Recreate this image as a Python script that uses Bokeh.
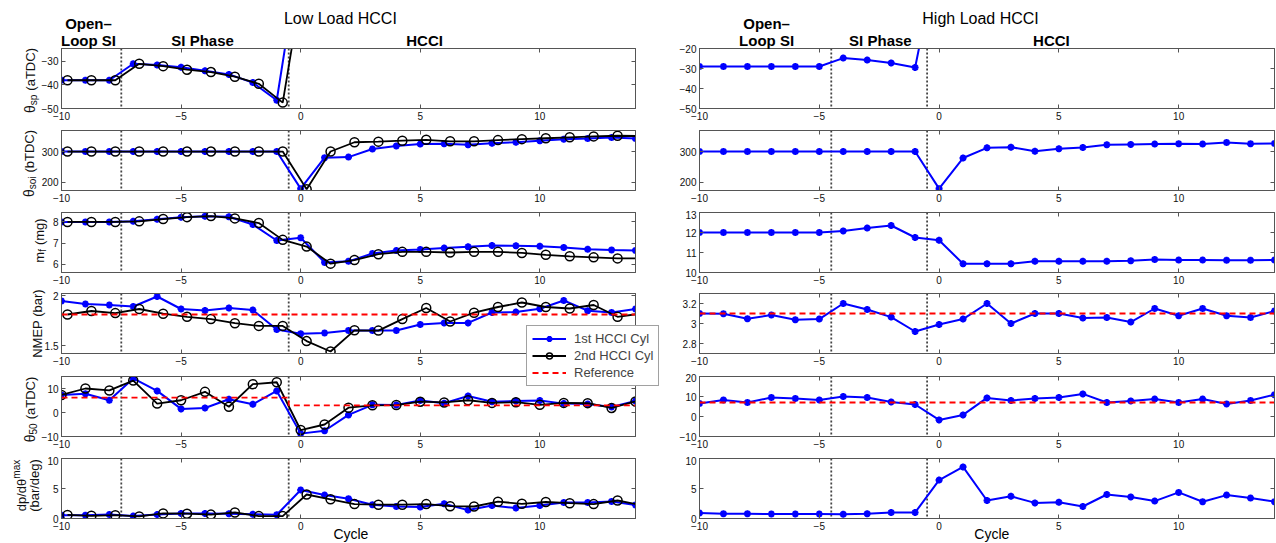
import math
from bokeh.plotting import figure
from bokeh.models import (Range1d, Span, Label, Legend, LegendItem, LinearAxis,
                          FixedTicker, CustomJSTickFormatter)
from bokeh.layouts import column, row
from bokeh.embed import file_html
from bokeh.resources import INLINE

FONT = "Liberation Sans"
AX = "#555555"
BLUE = "#0000ff"
BLACK = "#000000"
RED = "#ff0000"

# ---------------- data ----------------
x_ticks = [-10, -5, 0, 5, 10]
cycles_1st = [-10, -9, -8, -7, -6, -5, -4, -3, -2, -1, 0, 1, 2, 3, 4, 5, 6, 7,
              8, 9, 10, 11, 12, 13, 14]
cycles_2nd = [-9.75, -8.75, -7.75, -6.75, -5.75, -4.75, -3.75, -2.75, -1.75, -0.75,
              0.25, 1.25, 2.25, 3.25, 4.25, 5.25, 6.25, 7.25, 8.25, 9.25, 10.25,
              11.25, 12.25, 13.25, 14.25]
sp_cycles_1st = [-10, -9, -8, -7, -6, -5, -4, -3, -2, -1, 0]
sp_cycles_2nd = [-9.75, -8.75, -7.75, -6.75, -5.75, -4.75, -3.75, -2.75, -1.75, -0.75, 0.25]

# Low load HCCI
lo_sp_1st = [-38, -38, -38, -31, -31.5, -32.5, -34, -35.5, -39, -46.5, 18]
lo_sp_2nd = [-38, -38, -38, -31, -32, -33.5, -34.5, -36.5, -39.5, -47.5, 14]
lo_soi_1st = [300, 300, 300, 300, 300, 300, 300, 300, 300, 300, 180, 280, 282, 308,
              318, 324, 325, 322, 327, 330, 335, 340, 342, 345, 342]
lo_soi_2nd = [300, 300, 300, 300, 300, 300, 300, 300, 300, 300, 178, 300, 330, 332,
              335, 338, 333, 333, 337, 340, 343, 346, 349, 351, 350]
lo_mf_1st = [8.0, 8.0, 8.0, 8.03, 8.13, 8.22, 8.27, 8.25, 7.88, 7.12, 7.25, 6.08, 6.13,
             6.5, 6.64, 6.69, 6.76, 6.82, 6.88, 6.87, 6.85, 6.79, 6.7, 6.67, 6.65]
lo_mf_2nd = [8.0, 8.0, 8.0, 8.03, 8.14, 8.23, 8.28, 8.17, 7.95, 7.15, 6.83, 6.02, 6.19,
             6.47, 6.58, 6.58, 6.55, 6.58, 6.58, 6.53, 6.44, 6.37, 6.32, 6.27, 6.27]
lo_nmep_1st = [1.945, 1.915, 1.905, 1.89, 1.99, 1.865, 1.85, 1.875, 1.855, 1.66, 1.618,
               1.625, 1.65, 1.65, 1.65, 1.71, 1.726, 1.726, 1.83, 1.834, 1.868, 1.95,
               1.848, 1.83, 1.865]
lo_nmep_2nd = [1.81, 1.845, 1.824, 1.865, 1.818, 1.787, 1.764, 1.723, 1.696, 1.696,
               1.544, 1.44, 1.652, 1.649, 1.764, 1.875, 1.74, 1.828, 1.885, 1.93, 1.885,
               1.87, 1.905, 1.787, 1.82]
lo_nmep_ref_x = [-10, 14]
lo_nmep_ref = [1.81, 1.81]
lo_ca50_1st = [7.3, 7.8, 5.1, 14.2, 9.0, 1.5, 1.9, 5.5, 3.4, 9.0, -8.8, -7.6, -1.0, 3.2,
               3.1, 5.0, 3.9, 6.9, 4.5, 4.8, 5.0, 3.7, 3.5, 2.3, 4.8]
lo_ca50_2nd = [7.3, 10.0, 9.2, 13.3, 3.7, 5.1, 8.6, 2.4, 11.8, 12.6, -7.3, -5.0, 2.0, 3.0,
               3.1, 4.5, 4.2, 5.1, 4.0, 4.3, 3.2, 4.0, 3.9, 1.9, 4.6]
lo_ca50_ref_x = [-10, -0.5, -0.5, 14]
lo_ca50_ref = [6.2, 6.2, 3.0, 3.0]
lo_dp_1st = [0.55, 0.55, 0.65, 0.4, 0.65, 0.85, 0.85, 0.8, 0.7, 0.62, 4.75, 3.9, 3.3, 2.3,
             2.0, 1.9, 2.45, 1.4, 2.15, 1.75, 2.15, 2.65, 2.65, 2.85, 2.25]
lo_dp_2nd = [0.6, 0.45, 0.55, 0.35, 0.85, 0.8, 0.65, 1.0, 0.4, 0.4, 4.0, 3.2, 2.4, 2.3,
             2.3, 2.4, 2.05, 2.0, 2.8, 2.45, 2.75, 2.55, 2.4, 3.0, 2.2]

# High load HCCI
hi_sp_1st = [-29, -29, -29, -29, -29, -29, -24.8, -25.8, -27.2, -29.5, 30]
hi_soi_1st = [300, 300, 300, 300, 300, 300, 300, 300, 300, 300, 180, 279, 312, 314, 301,
              309, 313, 322, 323, 324, 325, 324, 329, 325, 326]
hi_mf_1st = [12.0, 12.0, 12.0, 12.0, 12.0, 12.0, 12.08, 12.22, 12.35, 11.75, 11.61, 10.44,
             10.44, 10.44, 10.56, 10.56, 10.56, 10.56, 10.59, 10.65, 10.62, 10.62, 10.61,
             10.61, 10.62]
hi_nmep_1st = [3.1, 3.097, 3.047, 3.085, 3.037, 3.044, 3.2, 3.14, 3.064, 2.92, 2.99, 3.044,
               3.2, 3.0, 3.1, 3.1, 3.054, 3.06, 3.014, 3.15, 3.078, 3.15, 3.078, 3.06, 3.125]
hi_nmep_ref_x = [-10, 14]
hi_nmep_ref = [3.1, 3.1]
hi_ca50_1st = [6.5, 8.3, 7.0, 9.5, 9.0, 8.3, 10.0, 9.5, 7.3, 6.0, -1.7, 0.8, 9.3, 8.0, 9.0,
               9.5, 11.3, 7.0, 7.8, 8.7, 7.0, 8.7, 6.3, 8.0, 10.9]
hi_ca50_ref_x = [-10, 14]
hi_ca50_ref = [7.0, 7.0]
hi_dp_1st = [0.9, 0.8, 0.8, 0.75, 0.75, 0.75, 0.7, 0.8, 1.0, 1.0, 6.4, 8.6, 3.0, 3.7, 2.6,
             2.7, 2.0, 4.0, 3.6, 2.9, 4.35, 2.8, 3.9, 3.4, 2.8]

lo_ranges = [(-50, -24.5), (174, 368), (5.6, 8.45), (1.42, 2.02), (-10, 15), (0, 10)]
hi_ranges = [(-50, -20), (174, 368), (10, 13), (2.7, 3.3), (-10, 20), (0, 10)]
lo_yticks = [[-50, -40, -30], [200, 300], [6, 7, 8], [1.5, 2], [-10, 0, 10], [0, 5, 10]]
hi_yticks = [[-50, -40, -30, -20], [200, 300], [10, 11, 12, 13], [2.8, 3, 3.2],
             [-10, 0, 10, 20], [0, 5, 10]]
lo_phase_lines = [-7.5, -0.5]
hi_phase_lines = [-4.5, -0.5]

legend_labels = ["1st HCCI Cyl", "2nd HCCI Cyl", "Reference"]

# ---------------- layout constants (pixels) ----------------
W_TOTAL, H_TOTAL = 1276, 543
H = [128, 82, 81, 82, 83, 87]
BT = [48, 2, 2, 2, 3, 2]
BB = [20, 20, 19, 20, 20, 25]
FRAME_TOP = [48, 130, 212, 293, 376, 458]
FRAME_H = 60
LX0, LX1 = 61, 635      # left column frame edges
RX0, RX1 = 699, 1274    # right column frame edges

fmt = CustomJSTickFormatter(code="return String(tick).replace('-', '\u2212');")
blank = CustomJSTickFormatter(code="return '';")

CW = {'a': .556, 'b': .556, 'c': .5, 'd': .556, 'e': .556, 'f': .278, 'g': .556,
      'h': .556, 'i': .222, 'l': .222, 'm': .833, 'n': .556, 'o': .556, 'p': .556,
      'r': .333, 's': .5, 't': .278, 'x': .5, 'A': .667, 'B': .667, 'C': .722,
      'D': .722, 'E': .667, 'M': .833, 'N': .722, 'P': .667, 'T': .611, '(': .333,
      ')': .333, '/': .278, ' ': .278, '0': .556, '5': .556, 'θ': .556}


def tw(s, size):
    return sum(CW.get(ch, 0.556) for ch in s) * size


def lpx(x):
    return LX0 + (x + 10) * (LX1 - LX0) / 24.0


def rpx(x):
    return RX0 + (x + 10) * (RX1 - RX0) / 24.0


def style_axis(ax, ticks, show):
    ax.ticker = FixedTicker(ticks=ticks, minor_ticks=[])
    ax.major_tick_in = 4
    ax.major_tick_out = 0
    ax.minor_tick_in = 0
    ax.minor_tick_out = 0
    ax.axis_line_color = AX
    ax.major_tick_line_color = AX
    ax.major_label_text_font = FONT
    ax.major_label_text_color = "#111111"
    if show:
        ax.major_label_text_font_size = "10px"
        ax.major_label_standoff = 3
        ax.formatter = fmt
    else:
        ax.major_label_text_font_size = "0px"
        ax.major_label_standoff = 0
        ax.formatter = blank


def make_panel(left, r, yr, yticks, phase_lines):
    width = 665 if left else 611
    bl = LX0 if left else RX0 - 665
    br = 665 - LX1 if left else W_TOTAL - RX1
    p = figure(width=width, height=H[r], x_range=Range1d(-10, 14),
               y_range=Range1d(*yr), output_backend="svg", toolbar_location=None,
               title=None, min_border_left=bl, min_border_right=br,
               min_border_top=BT[r], min_border_bottom=BB[r],
               background_fill_color="white", border_fill_color="white",
               border_fill_alpha=0)
    p.xgrid.visible = False
    p.ygrid.visible = False
    p.outline_line_color = AX
    p.outline_line_width = 1
    style_axis(p.xaxis[0], x_ticks, True)
    style_axis(p.yaxis[0], yticks, True)
    top = LinearAxis()
    style_axis(top, x_ticks, False)
    p.add_layout(top, "above")
    rgt = LinearAxis()
    style_axis(rgt, yticks, False)
    p.add_layout(rgt, "right")
    for loc in phase_lines:
        p.add_layout(Span(location=loc, dimension="height", line_color="#444444",
                          line_dash="2 2", line_width=1.8, level="underlay"))
    return p


def blue_style(p, xs, ys):
    l = p.line(xs, ys, line_color=BLUE, line_width=2)
    s = p.scatter(xs, ys, marker="asterisk", size=7, line_color=BLUE, line_width=2.2)
    return [l, s]


def black_style(p, xs, ys):
    l = p.line(xs, ys, line_color=BLACK, line_width=1.8)
    s = p.scatter(xs, ys, marker="circle", size=9, line_color=BLACK, line_width=1.5,
                  fill_alpha=0)
    return [l, s]


def ref_style(p, xs, ys):
    return [p.line(xs, ys, line_color=RED, line_width=1.8, line_dash="6 4")]


lo_series = [
    ((sp_cycles_1st, lo_sp_1st), (sp_cycles_2nd, lo_sp_2nd), None),
    ((cycles_1st, lo_soi_1st), (cycles_2nd, lo_soi_2nd), None),
    ((cycles_1st, lo_mf_1st), (cycles_2nd, lo_mf_2nd), None),
    ((cycles_1st, lo_nmep_1st), (cycles_2nd, lo_nmep_2nd), (lo_nmep_ref_x, lo_nmep_ref)),
    ((cycles_1st, lo_ca50_1st), (cycles_1st, lo_ca50_2nd), (lo_ca50_ref_x, lo_ca50_ref)),
    ((cycles_1st, lo_dp_1st), (cycles_2nd, lo_dp_2nd), None),
]
hi_series = [
    ((sp_cycles_1st, hi_sp_1st), None),
    ((cycles_1st, hi_soi_1st), None),
    ((cycles_1st, hi_mf_1st), None),
    ((cycles_1st, hi_nmep_1st), (hi_nmep_ref_x, hi_nmep_ref)),
    ((cycles_1st, hi_ca50_1st), (hi_ca50_ref_x, hi_ca50_ref)),
    ((cycles_1st, hi_dp_1st), None),
]

rows = []
for r in range(6):
    pl = make_panel(True, r, lo_ranges[r], lo_yticks[r], lo_phase_lines)
    b, k, ref = lo_series[r]
    blue_style(pl, *b)
    black_style(pl, *k)
    if ref:
        ref_style(pl, *ref)
    ph = make_panel(False, r, hi_ranges[r], hi_yticks[r], hi_phase_lines)
    b, ref = hi_series[r]
    blue_style(ph, *b)
    if ref:
        ref_style(ph, *ref)
    rows.append(row(pl, ph, spacing=0))

# ---------------- transparent overlay carrying all outside texts + legend ----------------
ov = figure(width=W_TOTAL, height=H_TOTAL, x_range=Range1d(0, W_TOTAL),
            y_range=Range1d(H_TOTAL, 0), output_backend="svg", toolbar_location=None,
            title=None, x_axis_type=None, y_axis_type=None,
            min_border_left=0, min_border_right=0, min_border_top=0, min_border_bottom=0,
            background_fill_alpha=0, border_fill_alpha=0, outline_line_color=None,
            margin=(-H_TOTAL, 0, 0, 0))
ov.xgrid.visible = False
ov.ygrid.visible = False


def txt(x, y, text, size, bold=False, align="center"):
    ov.add_layout(Label(x=x, y=y, text=text, text_align=align, text_baseline="middle",
                        text_font=FONT, text_font_size=f"{size}px",
                        text_font_style="bold" if bold else "normal",
                        text_color="#000000"))


def vlabel(cx, yc, pieces):
    # pieces: (text, font size, baseline shift, gap before)
    base = cx + 4.5
    total = sum(tw(t, s) + g for t, s, sh, g in pieces)
    y = yc + total / 2
    for t, s, sh, g in pieces:
        y -= g
        ov.add_layout(Label(x=base - sh, y=y, text=t, angle=math.pi / 2,
                            text_align="left", text_baseline="alphabetic",
                            text_font=FONT, text_font_size=f"{s}px",
                            text_color="#111111"))
        y -= tw(t, s)


# titles and phase names
txt(lpx(1.66), 18, "Low Load HCCI", 16)
txt(lpx(-8.87), 23, "Open\u2013", 15, True)
txt(lpx(-8.87), 40, "Loop SI", 15, True)
txt(lpx(-4.1), 40, "SI Phase", 15, True)
txt(lpx(5.18), 40, "HCCI", 15, True)
txt(rpx(1.73), 18, "High Load HCCI", 16)
txt(rpx(-7.2), 23, "Open\u2013", 15, True)
txt(rpx(-7.2), 40, "Loop SI", 15, True)
txt(rpx(-2.45), 40, "SI Phase", 15, True)
txt(rpx(4.69), 40, "HCCI", 15, True)
txt(lpx(2.1), 533, "Cycle", 14)
txt(rpx(2.2), 533, "Cycle", 14)

# y axis labels of the left column
yc = [ft + FRAME_H / 2 for ft in FRAME_TOP]
vlabel(25, yc[0] + 2, [("θ", 14, 0, 0), ("sp", 10, -3, 0), ("(aTDC)", 13, 0, 4)])
vlabel(24, yc[1] + 3, [("θ", 14, 0, 0), ("soi", 10, -3, 0), ("(bTDC)", 13, 0, 4)])
vlabel(34, yc[2] - 2, [("m", 13, 0, 0), ("f", 10, -3, 0), ("(mg)", 13, 0, 4)])
vlabel(32, yc[3], [("NMEP (bar)", 13, 0, 0)])
vlabel(25, yc[4] + 3, [("θ", 14, 0, 0), ("50", 10, -3, 0), ("(aTDC)", 13, 0, 4)])
vlabel(16, yc[5] - 3, [("dp/dθ", 13, 0, 0), ("max", 10, 5, 0)])
vlabel(29, yc[5] - 3, [("(bar/deg)", 13, 0, 0)])

# legend (proxy renderers with a single NaN point; nothing is drawn on the page)
nan = float("nan")
leg_b = blue_style(ov, [nan], [nan])
leg_k = black_style(ov, [nan], [nan])
leg_r = ref_style(ov, [nan], [nan])
leg = Legend(items=[LegendItem(label=legend_labels[0], renderers=leg_b),
                    LegendItem(label=legend_labels[1], renderers=leg_k),
                    LegendItem(label=legend_labels[2], renderers=leg_r)],
             location=(526, H_TOTAL - 386), orientation="vertical",
             label_text_font=FONT, label_text_font_size="13px",
             glyph_width=34, glyph_height=15, label_height=15,
             label_standoff=8, padding=5, spacing=2, margin=0,
             border_line_color="#444444", border_line_width=1,
             background_fill_color="white", background_fill_alpha=1)
ov.add_layout(leg)

p = column(*rows, ov, spacing=0)

open("out.html", "w").write(file_html(p, INLINE))
